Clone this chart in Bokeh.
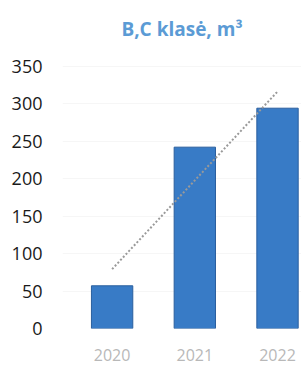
import numpy as np
from bokeh.plotting import figure
from bokeh.models import Range1d, FixedTicker, Title
from bokeh.embed import file_html
from bokeh.resources import INLINE

years = ["2020", "2021", "2022"]
values = [57, 242, 294]
y_ticks = [0, 50, 100, 150, 200, 250, 300, 350]
title_text = "B,C klasė, m³"

xs = list(range(len(years)))
coef = np.polyfit(xs, values, 1)
trend_x = [xs[0], xs[-1]]
trend_y = [coef[0] * x + coef[1] for x in trend_x]

p = figure(width=301, height=365, output_backend="svg", toolbar_location=None,
           x_range=Range1d(-0.6, 2.29), y_range=Range1d(0, 371),
           min_border_left=62, min_border_right=0, min_border_top=50, min_border_bottom=37)
p.title = None
t = Title(text=title_text, align="center", text_font="Open Sans", text_font_size="19px",
          text_font_style="bold", text_color="#5B9BD5", standoff=17)
p.add_layout(t, "above")
p.outline_line_color = None
p.background_fill_color = "white"
p.border_fill_color = "white"

p.vbar(x=xs, top=values, width=0.5, bottom=0, fill_color="#387BC6", line_color="#2A5F9E", line_width=1)
p.line(trend_x, trend_y, line_color="#9A9A9A", line_width=2, line_dash="2 2")

p.xgrid.grid_line_color = None
p.ygrid.grid_line_color = "#F6F6F6"
p.ygrid.ticker = FixedTicker(ticks=y_ticks)

p.yaxis.ticker = FixedTicker(ticks=y_ticks)
p.yaxis.axis_line_color = None
p.yaxis.major_tick_line_color = None
p.yaxis.minor_tick_line_color = None
p.yaxis.major_label_text_font = "Open Sans"
p.yaxis.major_label_text_font_size = "18px"
p.yaxis.major_label_text_color = "#1A1A1A"
p.yaxis.major_label_standoff = 14

p.xaxis.ticker = FixedTicker(ticks=xs)
p.xaxis.major_label_overrides = {i: y for i, y in enumerate(years)}
p.xaxis.axis_line_color = None
p.xaxis.major_tick_line_color = None
p.xaxis.minor_tick_line_color = None
p.xaxis.major_label_text_font = "Open Sans"
p.xaxis.major_label_text_font_size = "16px"
p.xaxis.major_label_text_color = "#B8B8B8"
p.xaxis.major_label_standoff = 14

open("out.html", "w").write(file_html(p, INLINE))
